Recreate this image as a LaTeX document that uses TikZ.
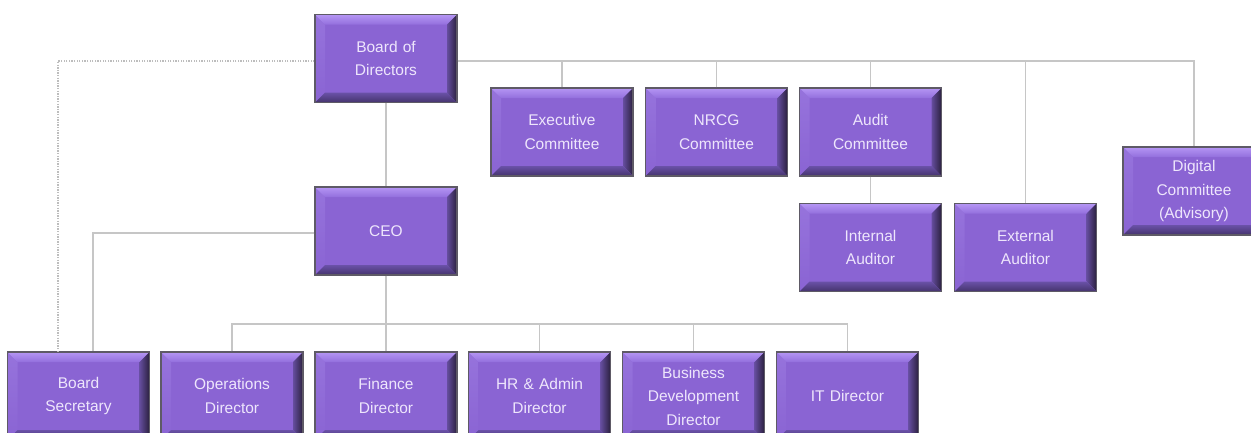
\documentclass[tikz,border=0pt]{standalone}
\usepackage{fontspec}
\newfontfamily\boxfont{Liberation Sans}
\usetikzlibrary{calc}

\definecolor{boxface}{HTML}{8A64D3}
\definecolor{boxedge}{HTML}{5E5A66}
\definecolor{boxtext}{HTML}{EEE6FC}
\definecolor{bevtopA}{HTML}{B596F4}
\definecolor{bevtopB}{HTML}{936FDD}
\definecolor{bevleftA}{HTML}{9673DC}
\definecolor{bevleftB}{HTML}{8A64D3}
\definecolor{bevrightA}{HTML}{654D9E}
\definecolor{bevrightB}{HTML}{2A203E}
\definecolor{bevbotA}{HTML}{6A51A8}
\definecolor{bevbotB}{HTML}{44336C}
\definecolor{linkgray}{HTML}{C6C6C6}
\definecolor{dotgray}{HTML}{BDBDBD}

\tikzset{
  orgbox/.style={
    draw=boxedge, line width=1.2pt, fill=boxface,
    minimum width=142pt, minimum height=88pt, inner sep=0pt,
    text width=136pt, align=center, text=boxtext,
    font={\boxfont\fontsize{15.5}{23.5}\selectfont},
    path picture={
      % bevel bands of the raised box
      \coordinate (oNW) at ([shift={(-71pt,44pt)}]path picture bounding box.center);
      \coordinate (oNE) at ([shift={(71pt,44pt)}]path picture bounding box.center);
      \coordinate (oSW) at ([shift={(-71pt,-44pt)}]path picture bounding box.center);
      \coordinate (oSE) at ([shift={(71pt,-44pt)}]path picture bounding box.center);
      \coordinate (iNW) at ([shift={(-61pt,34pt)}]path picture bounding box.center);
      \coordinate (iNE) at ([shift={(61pt,34pt)}]path picture bounding box.center);
      \coordinate (iSW) at ([shift={(-61pt,-34pt)}]path picture bounding box.center);
      \coordinate (iSE) at ([shift={(61pt,-34pt)}]path picture bounding box.center);
      \shade[top color=bevleftA, bottom color=bevleftB]
        (oNW) -- (iNW) -- (iSW) -- (oSW) -- cycle;
      \shade[top color=bevtopA, bottom color=bevtopB]
        (oNW) -- (oNE) -- (iNE) -- (iNW) -- cycle;
      \shade[left color=bevrightA, right color=bevrightB]
        (oNE) -- (oSE) -- (iSE) -- (iNE) -- cycle;
      \shade[top color=bevbotA, bottom color=bevbotB]
        (oSW) -- (iSW) -- (iSE) -- (oSE) -- cycle;
    }},
  link/.style={draw=linkgray, line width=1.3pt},
  advisory/.style={draw=dotgray, line width=1.3pt, dash pattern=on 1.3pt off 1.3pt}
}

\begin{document}
\begin{tikzpicture}[x=1pt, y=-1pt]
  \useasboundingbox[fill=white] (0,0) rectangle (1251,432);

  % board level
  \node[orgbox] (board)    at (386,58.5)   {Board of\\Directors};
  \node[orgbox] (exec)     at (562,132)    {Executive\\Committee};
  \node[orgbox] (nrcg)     at (716.5,132)  {NRCG\\Committee};
  \node[orgbox] (audit)    at (870.5,132)  {Audit\\Committee};
  \node[orgbox] (digital)  at (1194,191)   {Digital\\Committee\\(Advisory)};
  \node[orgbox] (ceo)      at (386,231)    {CEO};
  \node[orgbox] (internal) at (870.5,247.5) {Internal\\Auditor};
  \node[orgbox] (external) at (1025.5,247.5) {External\\Auditor};

  % management level
  \node[orgbox] (bsec)     at (78.5,396)   {Board\\Secretary};
  \node[orgbox] (ops)      at (232,396)    {Operations\\Director};
  \node[orgbox] (fin)      at (386,396)    {Finance\\Director};
  \node[orgbox] (hr)       at (539.5,396)  {HR \& Admin\\Director};
  \node[orgbox] (bd)       at (693.5,396)  {Business\\Development\\Director};
  \node[orgbox] (it)       at (847.5,396)  {IT Director};

  % bus lines
  \coordinate (tbus) at (0,61);
  \coordinate (bbus) at (0,324);
  \coordinate (sbus) at (0,233);

  % committees under the board
  \draw[link] (board.east |- tbus) -| (digital.north);
  \draw[link] (exec.north) -- (exec.north |- tbus);
  \draw[link] (nrcg.north) -- (nrcg.north |- tbus);
  \draw[link] (audit.north) -- (audit.north |- tbus);
  \draw[link] (external.north) -- (external.north |- tbus);
  \draw[link] (audit.south) -- (internal.north);

  % board to CEO
  \draw[link] (board.south) -- (ceo.north);

  % CEO to directors
  \draw[link] (ceo.south) -- (fin.north);
  \draw[link] (ops.north) |- (bbus -| it.north) -- (it.north);
  \draw[link] (hr.north) -- (hr.north |- bbus);
  \draw[link] (bd.north) -- (bd.north |- bbus);

  % CEO to board secretary, plus dotted line from the board
  \draw[link] (ceo.west |- sbus) -| ([xshift=14.5pt]bsec.north);
  \draw[advisory] (board.west |- tbus) -| ([xshift=-20.5pt]bsec.north);
\end{tikzpicture}
\end{document}
